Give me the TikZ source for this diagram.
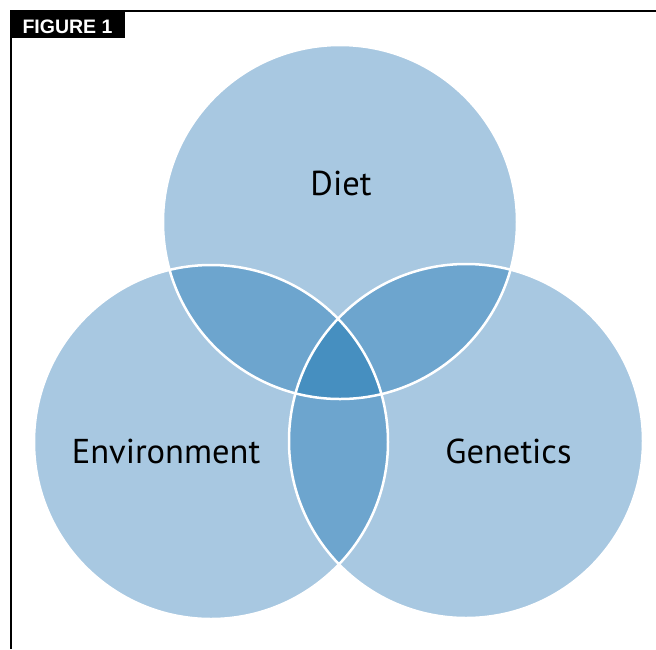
\documentclass[tikz,border=0pt]{standalone}
\usepackage{fontspec}
\setmainfont{PT Sans}
\newfontfamily\figfont{Liberation Sans}
\definecolor{lightblue}{HTML}{A8C8E1}
\definecolor{midblue}{HTML}{6DA5CE}
\definecolor{darkblue}{HTML}{468FC0}
\tikzset{
  ring/.style={white, line width=2.5pt},
  setlabel/.style={font=\fontsize{34.5}{40}\selectfont, text=black, inner sep=0pt, anchor=base},
  framerule/.style={black, line width=1.2pt}
}
\begin{document}
\begin{tikzpicture}[x=1pt,y=-1pt]
\useasboundingbox (0,0) rectangle (656,649);
\coordinate (D) at (340,222);
\coordinate (E) at (211,442);
\coordinate (G) at (466,441);
% frame
\coordinate (tl) at (11,11);
\coordinate (tr) at (656,11);
\coordinate (bl) at (11,649);
\draw[framerule] (tr) -- (tl) -- (bl);
\fill[black] (10,10) rectangle (125,38);
\node[text=white, font=\figfont\bfseries\fontsize{19.5}{22}\selectfont, inner sep=0pt, anchor=base] (fig) at (67.5,33) {FIGURE 1};
% circles
\fill[lightblue] (D) circle[radius=177pt];
\fill[lightblue] (E) circle[radius=177pt];
\fill[lightblue] (G) circle[radius=177pt];
\begin{scope}
  \clip (D) circle[radius=177pt];
  \fill[midblue] (E) circle[radius=177pt];
  \fill[midblue] (G) circle[radius=177pt];
\end{scope}
\begin{scope}
  \clip (E) circle[radius=177pt];
  \fill[midblue] (G) circle[radius=177pt];
\end{scope}
\begin{scope}
  \clip (D) circle[radius=177pt];
  \clip (E) circle[radius=177pt];
  \fill[darkblue] (G) circle[radius=177pt];
\end{scope}
\draw[ring] (D) circle[radius=177pt];
\draw[ring] (E) circle[radius=177pt];
\draw[ring] (G) circle[radius=177pt];
% labels
\node[setlabel] (diet) at (341,195) {Diet};
\node[setlabel] (env) at (166,463) {Environment};
\node[setlabel] (gen) at (508.5,463) {Genetics};
\end{tikzpicture}
\end{document}
